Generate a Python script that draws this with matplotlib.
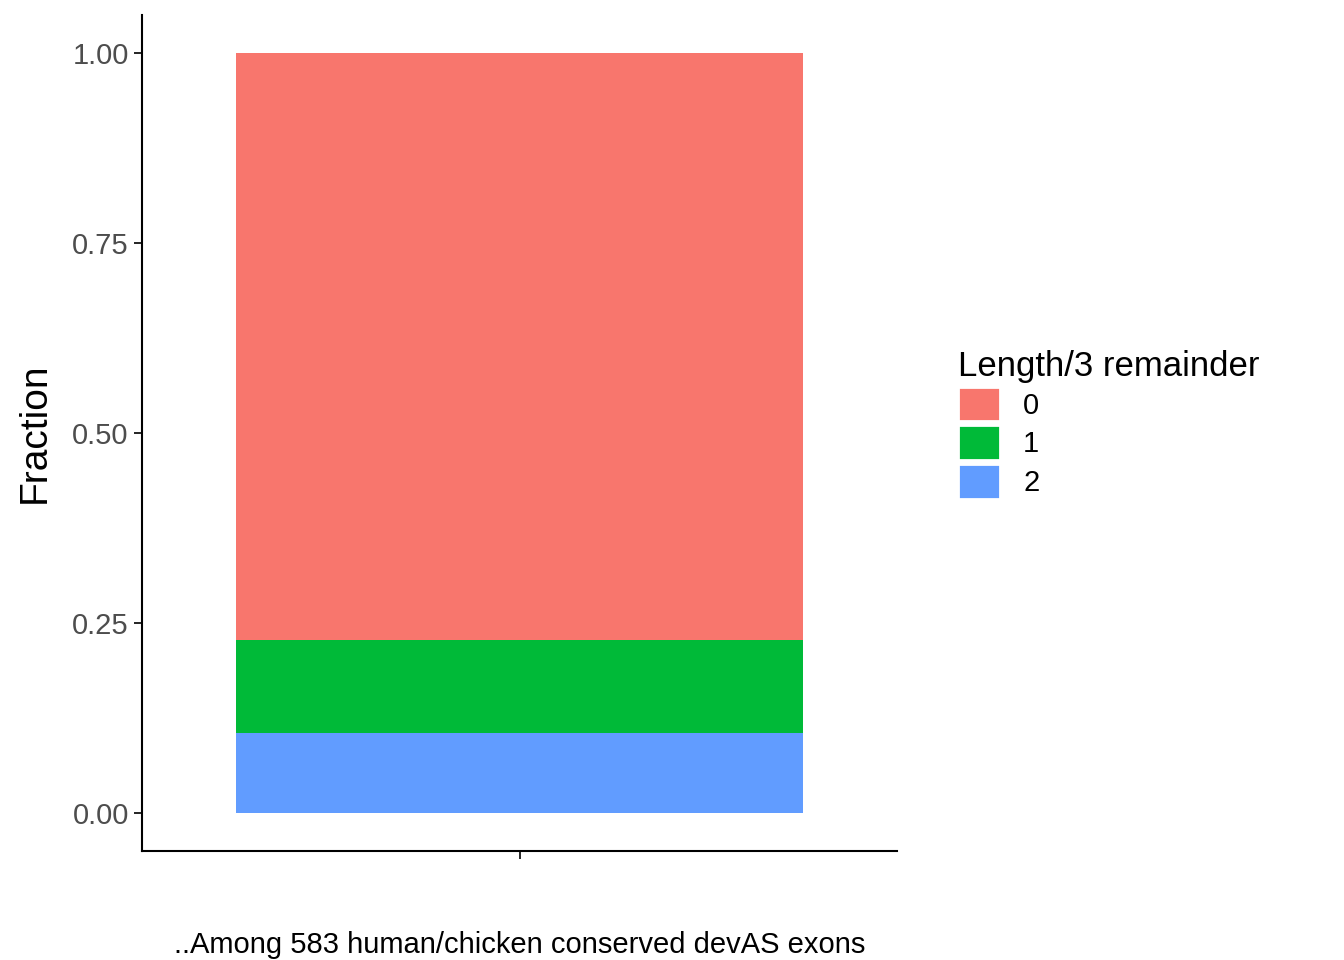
import matplotlib.pyplot as plt
from matplotlib.patches import Patch

plt.rcParams["font.family"] = ["Liberation Sans", "DejaVu Sans"]

# counts per length/3 remainder among 583 exons
remainders = ["0", "1", "2"]
counts = [450, 72, 61]
colors = ["#F8766D", "#00BA38", "#619CFF"]
category = "..Among 583 human/chicken conserved devAS exons"

total = sum(counts)
fractions = [c / total for c in counts]

fig = plt.figure(figsize=(13.44, 9.6), dpi=100)
ax = fig.add_axes([0.1057, 0.1135, 0.5618, 0.871])

# stack: remainder 2 at bottom, then 1, then 0
bottom = 0.0
for rem, frac, col in reversed(list(zip(remainders, fractions, colors))):
    ax.bar([1], [frac], width=0.9, bottom=bottom, color=col, label=rem)
    bottom += frac

ax.set_xlim(0.4, 1.6)
ax.set_ylim(-0.05, 1.05)
ax.set_xticks([1])
ax.set_xticklabels([""])
ax.set_yticks([0, 0.25, 0.5, 0.75, 1.0])
ax.set_yticklabels(["0.00", "0.25", "0.50", "0.75", "1.00"])
ax.tick_params(axis="both", labelsize=21, labelcolor="#4d4d4d", length=6, width=1.2)
for side in ["top", "right"]:
    ax.spines[side].set_visible(False)
for side in ["left", "bottom"]:
    ax.spines[side].set_linewidth(1.5)

ax.set_ylabel("Fraction", fontsize=28, labelpad=14)
ax.set_xlabel(category, fontsize=21, labelpad=48)

handles = [Patch(facecolor=c, edgecolor="white", linewidth=2) for c in colors]
leg = fig.legend(handles, remainders, title="Length/3 remainder",
                 loc="upper left", bbox_to_anchor=(943 / 1344, 1 - 335 / 960),
                 frameon=False, fontsize=21, title_fontsize=25,
                 handlelength=1.45, handleheight=1.45, labelspacing=0.14,
                 handletextpad=0.8, borderpad=0, alignment="left")

fig.savefig("out.png", dpi=100)
